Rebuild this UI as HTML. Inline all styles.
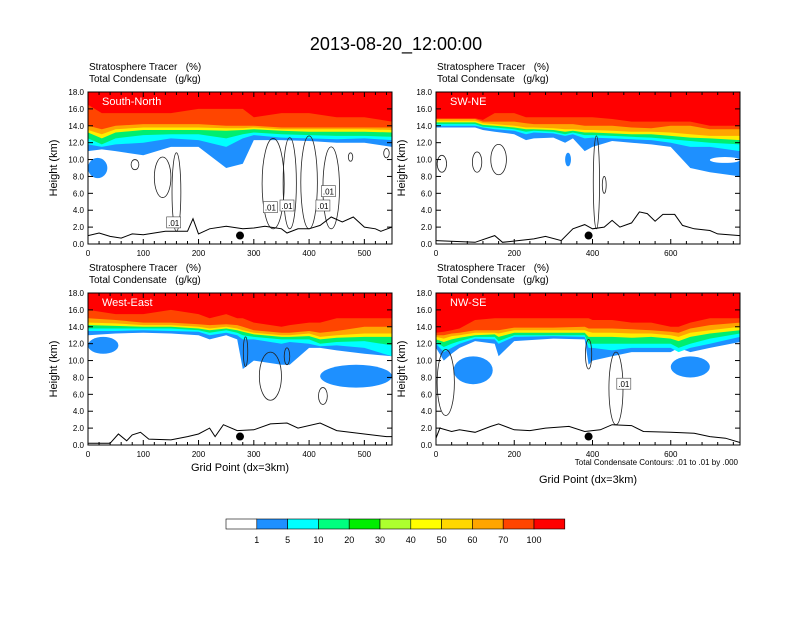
<!DOCTYPE html>
<html><head><meta charset="utf-8"><style>
body{margin:0;background:#fff}
svg text{font-family:"Liberation Sans",Arial,sans-serif;white-space:pre}
</style></head><body>
<svg id="s" width="792" height="612" viewBox="0 0 792 612" xmlns="http://www.w3.org/2000/svg">
<text x="396" y="50" font-size="18" text-anchor="middle">2013-08-20_12:00:00</text>
</svg>
<script>
const levelColors = ["#1E90FF","#00FFFF","#00EE70","#FFEE00","#FFA500","#FF4500","#FF0000"];
const cbLabels = ["1","5","10","20","30","40","50","60","70","100"];
const cbColors = ["#FFFFFF","#1E90FF","#00FFFF","#00FF7F","#00EE00","#ADFF2F","#FFFF00","#FFD700","#FFA500","#FF4500","#FF0000"];
const yTicks = [0,2,4,6,8,10,12,14,16,18];

const p1Xs = [0,25,50,100,150,200,250,280,300,350,400,450,500,550];
const p1Levels = [
 [11.0,11.2,11.0,10.5,11.5,11.5,9.0,9.5,12.3,12.3,12.2,12.0,12.0,11.5],
 [11.8,11.5,11.8,12.0,12.5,12.3,11.5,12.5,12.9,12.6,12.5,12.4,12.5,12.3],
 [12.5,11.8,12.5,12.9,13.0,13.0,12.5,13.0,13.2,13.0,12.9,12.8,12.8,12.7],
 [13.2,12.5,13.2,13.5,13.5,13.5,13.4,13.5,13.6,13.4,13.3,13.3,13.3,13.2],
 [13.5,13.0,13.6,13.8,13.8,13.8,13.7,13.7,13.8,13.6,13.6,13.6,13.6,13.5],
 [14.0,13.6,14.0,14.2,14.2,14.2,14.0,14.0,14.0,13.8,13.8,13.8,13.8,13.8],
 [16.5,15.5,15.5,15.5,15.5,16.0,16.0,16.0,15.0,15.5,15.5,15.0,15.0,14.5]];
const p1Blobs = [[0,35,7.8,10.2]];
const p1TerrX = [0,20,40,60,80,100,120,140,160,180,190,200,220,250,280,300,320,350,360,380,400,420,440,460,480,500,520,530,550];
const p1TerrY = [1.0,1.3,0.9,0.7,1.2,1.1,1.3,1.5,1.5,1.5,3.0,1.2,1.8,2.1,1.8,1.9,2.1,1.8,1.3,1.8,1.8,2.2,3.2,2.6,3.2,2.0,1.8,1.5,2.0];
const p1Cont = [[85,7,8.8,10.0],[135,15,5.5,10.3],[160,8,1.5,10.8],[335,20,1.8,12.5],[365,12,1.8,12.6],[400,15,1.8,12.8],[440,15,1.8,11.5],[475,4,9.8,10.8],[540,5,10.2,11.3]];
const p1Lbl = [[155,2.5],[330,4.3],[360,4.5],[425,4.5],[435,6.2]];

const p2Xs = [0,50,100,120,150,200,230,250,300,330,350,380,400,450,500,550,600,650,700,777];
const p2Levels = [
 [13.8,13.8,13.8,13.5,13.3,13.0,12.3,12.5,12.6,12.0,12.5,11.0,11.5,12.2,12.0,11.8,11.5,9.0,8.5,8.0],
 [14.0,14.0,14.0,13.8,13.6,13.4,13.0,13.2,13.1,12.8,13.0,12.5,12.6,12.5,12.4,12.3,12.0,11.5,11.5,11.0],
 [14.2,14.2,14.2,13.9,13.8,13.6,13.3,13.4,13.3,13.0,13.2,12.9,12.9,12.8,12.7,12.6,12.4,12.2,12.0,11.8],
 [14.4,14.4,14.4,14.1,14.0,13.8,13.6,13.6,13.5,13.3,13.4,13.2,13.2,13.1,13.0,13.0,12.8,12.6,12.5,12.3],
 [14.6,14.6,14.6,14.3,14.2,14.0,13.8,13.8,13.7,13.6,13.6,13.5,13.5,13.4,13.3,13.3,13.2,13.0,12.8,12.8],
 [14.8,14.8,14.8,14.5,14.5,14.5,14.3,14.2,14.2,14.2,14.2,14.0,14.0,14.0,13.8,13.7,14.0,14.0,13.6,13.6],
 [14.9,14.9,14.9,14.7,15.5,15.5,15.0,15.0,15.0,15.0,15.0,15.0,15.0,14.8,14.5,14.5,14.5,14.5,14.0,14.0]];
const p2Blobs = [[330,345,9.2,10.8]];
const p2Holes = [[700,777,9.6,10.3]];
const p2TerrX = [0,100,150,170,250,280,320,350,380,400,430,450,470,500,520,540,560,580,610,630,660,700,720,777];
const p2TerrY = [0.4,0.2,1.0,0.2,0.6,0.9,0.4,1.8,2.3,1.8,2.0,2.8,2.0,2.5,3.8,3.6,2.7,3.5,3.5,2.2,1.8,1.6,1.2,1.0];
const p2Cont = [[15,12,8.5,10.5],[105,12,8.5,10.9],[160,20,8.2,11.8],[410,8,1.8,12.8],[430,5,6.0,8.0]];
const p2Lbl = [];

const p3Xs = [0,50,100,150,200,220,250,270,280,300,350,365,400,420,450,500,550];
const p3Levels = [
 [13.0,13.2,13.3,13.2,13.0,12.5,13.0,12.5,9.0,10.0,9.5,9.5,11.5,11.5,11.2,10.8,10.5],
 [13.5,13.5,13.6,13.5,13.4,13.0,13.3,13.0,12.5,12.5,12.0,12.2,12.0,11.7,11.8,11.5,10.5],
 [13.8,13.8,13.8,13.8,13.6,13.3,13.6,13.3,13.0,12.8,12.5,12.5,12.5,12.0,12.2,12.3,11.8],
 [14.2,14.1,14.0,14.0,13.8,13.6,13.8,13.6,13.4,13.1,12.8,12.8,12.9,12.5,12.7,12.8,12.8],
 [14.5,14.4,14.2,14.2,14.0,13.8,14.0,13.8,13.6,13.3,13.0,13.0,13.2,12.8,13.0,13.2,13.2],
 [15.0,14.8,14.5,14.5,14.3,14.2,14.3,14.2,14.0,13.6,13.3,13.3,13.5,13.3,13.5,14.0,14.0],
 [16.0,15.5,15.5,16.0,15.5,15.0,15.5,15.0,15.0,14.5,14.0,14.2,14.5,14.5,15.0,15.0,15.0]];
const p3Blobs = [[0,55,10.8,12.8],[420,550,6.8,9.5]];
const p3TerrX = [0,40,55,70,80,95,110,150,180,200,220,230,245,270,300,330,360,380,420,450,500,540,550];
const p3TerrY = [0.2,0.2,1.3,0.5,1.2,1.5,0.7,0.6,1.0,1.3,2.0,1.0,2.4,1.7,1.8,2.5,2.6,2.0,2.6,1.7,1.3,1.0,1.0];
const p3Cont = [[285,4,9.3,12.8],[330,20,5.3,11.0],[360,5,9.5,11.5],[425,8,4.8,6.8]];
const p3Lbl = [];

const p4Xs = [0,20,40,60,100,150,160,200,300,380,390,400,450,500,550,600,620,650,700,777];
const p4Levels = [
 [11.5,10.0,10.8,11.5,12.3,12.0,10.5,12.3,12.6,12.5,9.5,10.0,10.5,11.0,11.0,11.0,11.5,11.0,11.5,12.2],
 [12.0,11.0,11.5,12.0,12.6,12.5,12.0,12.8,12.9,12.8,11.5,11.5,11.2,11.5,11.5,11.5,11.0,11.5,12.0,12.8],
 [12.2,11.6,12.0,12.3,12.8,12.8,12.3,13.0,13.0,13.0,12.0,12.0,12.0,12.0,12.0,12.0,11.5,12.0,12.6,13.2],
 [12.5,12.2,12.5,12.7,13.0,13.1,12.8,13.3,13.3,13.3,12.8,12.8,12.8,12.7,12.8,12.6,12.3,12.8,13.2,13.6],
 [12.8,12.6,12.9,13.0,13.3,13.3,13.2,13.6,13.6,13.6,13.4,13.3,13.3,13.2,13.2,13.0,12.8,13.3,13.6,14.0],
 [13.0,13.0,13.2,13.3,13.6,13.6,13.6,13.9,13.9,14.0,13.8,13.8,13.8,13.7,13.6,13.4,13.3,13.8,14.2,14.5],
 [13.3,13.4,13.6,13.8,14.8,15.0,15.0,15.0,15.0,15.0,15.0,14.8,14.8,14.5,14.5,14.0,14.0,14.5,15.0,15.0]];
const p4Blobs = [[45,145,7.2,10.5],[600,700,8.0,10.5]];
const p4TerrX = [0,10,40,60,100,140,160,200,240,280,340,380,420,450,500,530,600,660,700,740,777];
const p4TerrY = [0.8,2.0,1.6,1.8,1.5,2.2,2.5,1.8,1.7,2.0,2.2,1.6,1.8,2.4,2.3,1.6,1.5,1.4,1.0,0.8,0.3];
const p4Cont = [[25,22,3.5,11.3],[390,8,9.0,12.5],[460,18,2.4,11.0]];
const p4Lbl = [[480,7.2]];

const panels = [
 {name:"South-North",x0:88,x1:392,y0:92,y1:244,xmax:550,xt:[0,100,200,300,400,500],xs:p1Xs,lv:p1Levels,bl:p1Blobs,ho:[],tx:p1TerrX,ty:p1TerrY,ct:p1Cont,lb:p1Lbl,dot:275,xlab:false},
 {name:"SW-NE",x0:436,x1:740,y0:92,y1:244,xmax:777,xt:[0,200,400,600],xs:p2Xs,lv:p2Levels,bl:p2Blobs,ho:p2Holes,tx:p2TerrX,ty:p2TerrY,ct:p2Cont,lb:p2Lbl,dot:390,xlab:false},
 {name:"West-East",x0:88,x1:392,y0:293,y1:445,xmax:550,xt:[0,100,200,300,400,500],xs:p3Xs,lv:p3Levels,bl:p3Blobs,ho:[],tx:p3TerrX,ty:p3TerrY,ct:p3Cont,lb:p3Lbl,dot:275,xlab:true},
 {name:"NW-SE",x0:436,x1:740,y0:293,y1:445,xmax:777,xt:[0,200,400,600],xs:p4Xs,lv:p4Levels,bl:p4Blobs,ho:[],tx:p4TerrX,ty:p4TerrY,ct:p4Cont,lb:p4Lbl,dot:390,xlab:true,note:true}
];
const S = document.getElementById('s');
const NS = "http://www.w3.org/2000/svg";
function mk(tag, attrs, parent){const e=document.createElementNS(NS,tag);for(const k in attrs)e.setAttribute(k,attrs[k]);(parent||S).appendChild(e);return e;}

panels.forEach((p,pi)=>{
  const X=v=>p.x0+(v/p.xmax)*(p.x1-p.x0);
  const Y=v=>p.y1-(v/18)*(p.y1-p.y0);
  const g=mk('g',{});
  
  
  const h1=mk('text',{x:p.x0+1,y:p.y0-22,'font-size':10},g);h1.textContent="Stratosphere Tracer   (%)";
  
  
  const h2=mk('text',{x:p.x0+1,y:p.y0-10,'font-size':10},g);h2.textContent="Total Condensate   (g/kg)";
  
  
  const cid='clip'+pi;
  const cp=mk('clipPath',{id:cid},g);mk('rect',{x:p.x0,y:p.y0,width:p.x1-p.x0,height:p.y1-p.y0},cp);
  const fg=mk('g',{'clip-path':'url(#'+cid+')'},g);
  p.bl.forEach(b=>{
    const e=mk('ellipse',{cx:X((b[0]+b[1])/2),cy:Y((b[2]+b[3])/2),rx:(X(b[1])-X(b[0]))/2,ry:(Y(b[2])-Y(b[3]))/2,fill:levelColors[0]},fg);
    
    
  });
  p.lv.forEach((arr,li)=>{
    let d='M'+X(p.xs[0])+','+Y(18);
    arr.forEach((v,i)=>{d+=' L'+X(p.xs[i]).toFixed(1)+','+Y(v).toFixed(1);});
    d+=' L'+X(p.xs[p.xs.length-1])+','+Y(18)+' Z';
    const e=mk('path',{d:d,fill:levelColors[li]},fg);
    
    
  });
  p.ho.forEach(b=>{
    const e=mk('ellipse',{cx:X((b[0]+b[1])/2),cy:Y((b[2]+b[3])/2),rx:(X(b[1])-X(b[0]))/2,ry:(Y(b[2])-Y(b[3]))/2,fill:'#fff'},fg);
    
    
  });
  p.ct.forEach(c=>{
    const e=mk('ellipse',{cx:X(c[0]),cy:Y((c[2]+c[3])/2),rx:Math.max(1.5,X(c[1])-X(0)),ry:(Y(c[2])-Y(c[3]))/2,fill:'none',stroke:'#222','stroke-width':0.8},fg);
    
    
  });
  let td='';p.tx.forEach((v,i)=>{td+=(i?' L':'M')+X(v).toFixed(1)+','+Y(p.ty[i]).toFixed(1);});
  const t=mk('path',{d:td,fill:'none',stroke:'#000','stroke-width':1},fg);
  
  
  p.lb.forEach(l=>{
    const r=mk('rect',{x:X(l[0])-7,y:Y(l[1])-6,width:14,height:11,fill:'#fff',stroke:'#444','stroke-width':0.6},fg);
    
    
    const tt=mk('text',{x:X(l[0]),y:Y(l[1])+3,'font-size':8,'text-anchor':'middle'},fg);tt.textContent=".01";
    
    
  });
  const dot=mk('circle',{cx:X(p.dot),cy:Y(1.0),r:4,fill:'#000'},g);
  
  
  const nm=mk('text',{x:p.x0+14,y:p.y0+13,'font-size':11,fill:'#fff'},g);nm.textContent=p.name;
  
  
  const fr=mk('rect',{x:p.x0,y:p.y0,width:p.x1-p.x0,height:p.y1-p.y0,fill:'none',stroke:'#000','stroke-width':1},g);
  
  
  yTicks.forEach(v=>{
    mk('line',{x1:p.x0,x2:p.x0+5,y1:Y(v),y2:Y(v),stroke:'#000'},g);
    mk('line',{x1:p.x1,x2:p.x1-5,y1:Y(v),y2:Y(v),stroke:'#000'},g);
    const tl=mk('text',{x:p.x0-4,y:Y(v)+3,'font-size':8,'text-anchor':'end'},g);tl.textContent=v.toFixed(1);
    
    
  });
  for(let v=0;v<=p.xmax;v+=p.xmax>600?40:20){
    const maj=p.xt.indexOf(v)>=0;const L=maj?5:3;
    mk('line',{x1:X(v),x2:X(v),y1:p.y1,y2:p.y1-L,stroke:'#000'},g);
    mk('line',{x1:X(v),x2:X(v),y1:p.y0,y2:p.y0+L,stroke:'#000'},g);
  }
  p.xt.forEach(v=>{
    const tl=mk('text',{x:X(v),y:p.y1+12,'font-size':8,'text-anchor':'middle'},g);tl.textContent=v;
    
    
  });
  const yt=mk('text',{x:0,y:0,'font-size':11,'text-anchor':'middle',transform:'translate('+(p.x0-31)+','+((p.y0+p.y1)/2)+') rotate(-90)'},g);yt.textContent="Height (km)";
  
  
  if(p.xlab){
    const xt=mk('text',{x:(p.x0+p.x1)/2,y:p.note?483:471,'font-size':11,'text-anchor':'middle'},g);xt.textContent="Grid Point (dx=3km)";
    
    
  }
  if(p.note){
    const n=mk('text',{x:p.x1-2,y:p.y1+20,'font-size':8,'text-anchor':'end'},g);n.textContent="Total Condensate Contours: .01 to .01 by .000";
    
    
  }
});

const cb=mk('g',{});


const cbx0=226,cbw=30.8,cby=519;
cbColors.forEach((c,i)=>{
  const r=mk('rect',{x:cbx0+i*cbw,y:cby,width:cbw,height:10,fill:c,stroke:'#000','stroke-width':0.6},cb);
  
  
});
cbLabels.forEach((l,i)=>{
  const t=mk('text',{x:cbx0+(i+1)*cbw,y:cby+24,'font-size':9,'text-anchor':'middle'},cb);t.textContent=l;
  
  
});
</script>
</body></html>
